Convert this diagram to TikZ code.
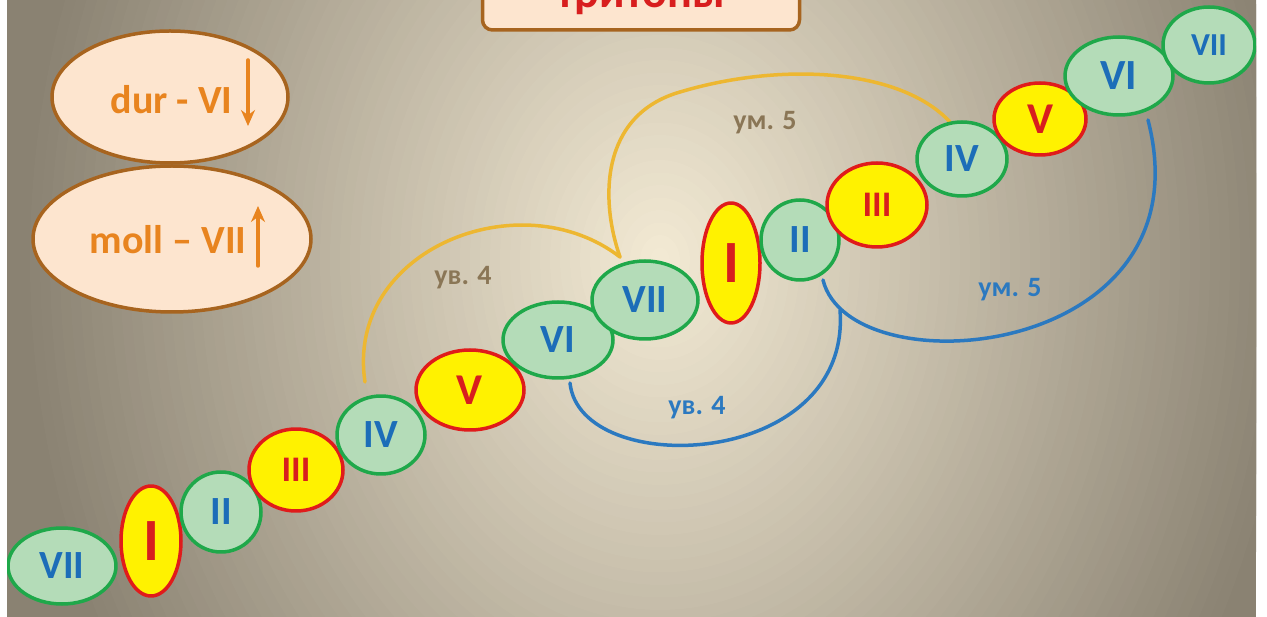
\documentclass[tikz,border=0pt]{standalone}
\usepackage{fontspec}
\setmainfont{Carlito}
\usetikzlibrary{shapes.geometric, arrows.meta}
\definecolor{bgin}{HTML}{F4EBD5}
\definecolor{bgout}{HTML}{8A8272}
\definecolor{grfill}{HTML}{B4DCB8}
\definecolor{grline}{HTML}{1FA84A}
\definecolor{blu}{HTML}{1C6DB8}
\definecolor{redline}{HTML}{E01B1B}
\definecolor{redtxt}{HTML}{D81E1E}
\definecolor{peach}{HTML}{FDE5CF}
\definecolor{brownline}{HTML}{A7641F}
\definecolor{orangetxt}{HTML}{E8841F}
\definecolor{arcyel}{HTML}{EDB731}
\definecolor{arcblu}{HTML}{2B79C0}
\definecolor{lblbrown}{HTML}{8A7656}
\newcommand\fsz[1]{\fontsize{#1}{#1}\selectfont}
\begin{document}
\begin{tikzpicture}[x=1pt, y=-1pt, line join=round, line cap=round, >={Stealth[length=16pt, width=14pt]},
		deg/.style={ellipse, draw, line width=3.5pt, inner sep=0pt, font=\bfseries\fsz{40}},
		grn/.style={deg, fill=grfill, draw=grline, text=blu},
		ylw/.style={deg, fill=yellow, draw=redline, text=redtxt},
		rule/.style={ellipse, draw=brownline, fill=peach, line width=3.5pt, inner sep=0pt},
		arc/.style={line width=3.5pt},
		lbl/.style={font=\bfseries\fsz{28}}]
	\useasboundingbox (0,0) rectangle (1267,617);
	\clip (7,0) rectangle (1256,617);
	% background
	\fill[bgout] (7,0) rectangle (1256,617);
	\foreach \k [evaluate=\k as \p using 100-\k*100/64] in {64,63,...,1}
		\fill[bgin!\p!bgout] (660,260) ellipse [x radius=\k*10, y radius=\k*12.5];
	% title
	\node[draw=brownline, fill=peach, line width=3.5pt, rounded corners=10pt, minimum width=317, minimum height=80] (title) at (641,-10) {};
	\node[anchor=base, text=redtxt, font=\bfseries\fsz{46}] (titletxt) at (641,8) {тритоны};
	% dur / moll
	\node[rule, minimum width=236, minimum height=132] (dur) at (170,97) {};
	\node[rule, minimum width=278, minimum height=146] (moll) at (172,239) {};
	\node[text=orangetxt, font=\bfseries\fsz{40}, anchor=east] (durtxt) at (236,100) {dur - VI};
	\node[text=orangetxt, font=\bfseries\fsz{40}, anchor=east] (molltxt) at (250,240) {moll – VII};
	\coordinate (durtop) at (248,60);
	\coordinate (durbot) at (248,126);
	\coordinate (mollbot) at (258,266);
	\coordinate (molltop) at (258,206);
	\draw[->, orangetxt, line width=3.5pt] (durtop) -- (durbot);
	\draw[->, orangetxt, line width=3.5pt] (mollbot) -- (molltop);
	% arcs
	\coordinate (ytip) at (620,257);
	\coordinate (btip) at (823,280);
	\draw[arc, arcyel] (365,382) .. controls (345,250) and (520,180) .. (ytip);
	\draw[arc, arcyel] (ytip) .. controls (600,200) and (600,115) .. (680,92) .. controls (780,62) and (900,68) .. (950,122);
	\draw[arc, arcblu] (570,383) .. controls (580,480) and (852,470) .. (840,310);
	\draw[arc, arcblu] (btip) .. controls (850,390) and (1210,360) .. (1148,120);
	\node[lbl, text=lblbrown] (uv4a) at (463,278) {ув. 4};
	\node[lbl, text=lblbrown] (um5a) at (765,123) {ум. 5};
	\node[lbl, text=arcblu] (uv4b) at (697,408) {ув. 4};
	\node[lbl, text=arcblu] (um5b) at (1010,290) {ум. 5};
	% scale
	\node[grn, minimum width=108, minimum height=76] (vii1) at (62,566) {VII};
	\node[ylw, minimum width=60, minimum height=110, font=\bfseries\fsz{60}] (i1) at (151,541) {I};
	\node[grn, minimum width=80, minimum height=80] (ii1) at (221,512) {II};
	\node[ylw, minimum width=94, minimum height=82, font=\bfseries\fsz{36}] (iii1) at (296,470) {III};
	\node[grn, minimum width=88, minimum height=78] (iv1) at (381,435) {IV};
	\node[ylw, minimum width=108, minimum height=80, font=\bfseries\fsz{44}] (v1) at (470,390) {V};
	\node[grn, minimum width=110, minimum height=76] (vi1) at (558,340) {VI};
	\node[grn, minimum width=106, minimum height=78] (vii2) at (645,300) {VII};
	\node[ylw, minimum width=58, minimum height=120, font=\bfseries\fsz{60}] (i2) at (731,263) {I};
	\node[grn, minimum width=78, minimum height=80] (ii2) at (800,240) {II};
	\node[ylw, minimum width=100, minimum height=84, font=\bfseries\fsz{36}] (iii2) at (877,205) {III};
	\node[grn, minimum width=90, minimum height=74] (iv2) at (962,159) {IV};
	\node[ylw, minimum width=92, minimum height=72, font=\bfseries\fsz{44}] (v2) at (1040,119) {V};
	\node[grn, minimum width=108, minimum height=78, font=\bfseries\fsz{43}] (vi2) at (1119,76) {VI};
	\node[grn, minimum width=92, minimum height=76, font=\bfseries\fsz{32}] (vii3) at (1209,45) {VII};
\end{tikzpicture}
\end{document}
